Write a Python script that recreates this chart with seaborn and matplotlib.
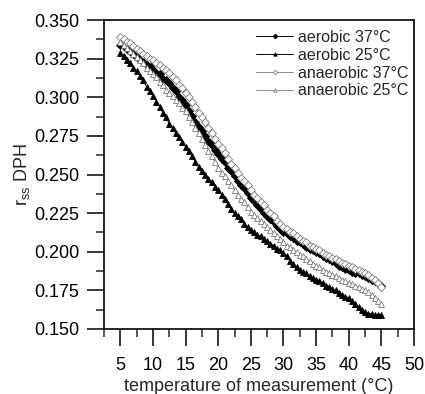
import numpy as np
import pandas as pd
import seaborn as sns
import matplotlib
matplotlib.use("Agg")
import matplotlib.pyplot as plt

# temperatura izmereniya, shag 0.5
temp = np.arange(5.0, 45.5, 0.5)

aerobic_37 = [0.334, 0.333, 0.331, 0.330, 0.328,
              0.326, 0.325, 0.323, 0.321, 0.320,
              0.318, 0.316, 0.315, 0.312, 0.311,
              0.309, 0.306, 0.304, 0.300, 0.298,
              0.295, 0.291, 0.288, 0.284, 0.281,
              0.278, 0.275, 0.272, 0.269, 0.266,
              0.263, 0.260, 0.258, 0.254, 0.252,
              0.249, 0.246, 0.243, 0.241, 0.238,
              0.235, 0.233, 0.230, 0.228, 0.225,
              0.223, 0.221, 0.219, 0.217, 0.215,
              0.213, 0.212, 0.210, 0.209, 0.207,
              0.206, 0.205, 0.203, 0.202, 0.201,
              0.200, 0.199, 0.197, 0.196, 0.195,
              0.194, 0.193, 0.191, 0.190, 0.189,
              0.188, 0.187, 0.186, 0.186, 0.185,
              0.184, 0.183, 0.182, 0.181, 0.180,
              0.178]

aerobic_25 = [0.329, 0.327, 0.324, 0.322, 0.319,
              0.317, 0.314, 0.311, 0.307, 0.304,
              0.301, 0.297, 0.294, 0.290, 0.287,
              0.283, 0.280, 0.277, 0.274, 0.271,
              0.268, 0.265, 0.262, 0.258, 0.255,
              0.252, 0.250, 0.247, 0.245, 0.242,
              0.240, 0.237, 0.234, 0.231, 0.228,
              0.225, 0.223, 0.221, 0.218, 0.216,
              0.214, 0.213, 0.211, 0.210, 0.208,
              0.207, 0.205, 0.204, 0.202, 0.201,
              0.199, 0.197, 0.194, 0.192, 0.190,
              0.188, 0.187, 0.186, 0.184, 0.183,
              0.182, 0.181, 0.180, 0.178, 0.177,
              0.176, 0.175, 0.173, 0.172, 0.171,
              0.170, 0.168, 0.166, 0.164, 0.162,
              0.161, 0.160, 0.160, 0.159, 0.159,
              0.159]

anaerobic_37 = [0.339, 0.338, 0.336, 0.335, 0.333,
                0.331, 0.330, 0.328, 0.327, 0.325,
                0.324, 0.322, 0.321, 0.319, 0.318,
                0.316, 0.313, 0.311, 0.308, 0.306,
                0.303, 0.300, 0.297, 0.294, 0.290,
                0.287, 0.284, 0.280, 0.277, 0.273,
                0.270, 0.267, 0.264, 0.260, 0.257,
                0.254, 0.251, 0.248, 0.246, 0.243,
                0.240, 0.237, 0.235, 0.232, 0.230,
                0.227, 0.225, 0.223, 0.220, 0.218,
                0.216, 0.215, 0.213, 0.212, 0.210,
                0.208, 0.207, 0.206, 0.204, 0.203,
                0.202, 0.201, 0.199, 0.198, 0.197,
                0.196, 0.195, 0.194, 0.193, 0.192,
                0.191, 0.190, 0.189, 0.188, 0.187,
                0.186, 0.185, 0.183, 0.182, 0.180,
                0.177]

anaerobic_25 = [0.336, 0.334, 0.332, 0.330, 0.328,
                0.326, 0.324, 0.322, 0.319, 0.317,
                0.315, 0.313, 0.310, 0.308, 0.305,
                0.303, 0.301, 0.298, 0.296, 0.293,
                0.291, 0.287, 0.284, 0.280, 0.277,
                0.273, 0.269, 0.265, 0.262, 0.258,
                0.254, 0.251, 0.249, 0.246, 0.243,
                0.240, 0.237, 0.234, 0.232, 0.229,
                0.226, 0.224, 0.222, 0.220, 0.218,
                0.216, 0.214, 0.212, 0.210, 0.208,
                0.206, 0.204, 0.203, 0.201, 0.200,
                0.198, 0.197, 0.195, 0.194, 0.192,
                0.191, 0.190, 0.188, 0.187, 0.186,
                0.185, 0.184, 0.183, 0.182, 0.181,
                0.180, 0.179, 0.178, 0.177, 0.176,
                0.175, 0.174, 0.172, 0.170, 0.168,
                0.166]

series_names = ["aerobic 37°C", "aerobic 25°C", "anaerobic 37°C", "anaerobic 25°C"]
series_vals = [aerobic_37, aerobic_25, anaerobic_37, anaerobic_25]

sns.set_style("ticks")
plt.rcParams['font.family'] = ['Liberation Sans', 'DejaVu Sans']
plt.rcParams['mathtext.default'] = 'regular'

# stil kazhdoj krivoj: (cvet linii, marker, zalivka, kraj markera)
styles = [("black", "D", "black", "black"),
          ("black", "^", "black", "black"),
          ("#8c8c8c", "D", "white", "#7a7a7a"),
          ("#8c8c8c", "^", "white", "#7a7a7a")]

fig = plt.figure(figsize=(4.25, 3.94), dpi=100)
ax = fig.add_axes([0.245, 0.165, 0.729, 0.784])

for name, vals, st in zip(series_names, series_vals, styles):
    sns.lineplot(x=temp, y=vals, ax=ax, label=name, color=st[0], lw=0.7,
                 marker=st[1], markersize=4, markerfacecolor=st[2],
                 markeredgecolor=st[3], markeredgewidth=0.6)

ax.set_xlim(2.5, 50)
ax.set_ylim(0.15, 0.35)
ax.set_xticks(np.arange(5, 51, 5))
ax.set_xticks(np.arange(2.5, 50, 5), minor=True)
ax.set_yticks(np.arange(0.15, 0.351, 0.025))
ax.set_yticks(np.arange(0.1625, 0.35, 0.025), minor=True)
ax.yaxis.set_major_formatter(matplotlib.ticker.FormatStrFormatter('%.3f'))
ax.tick_params(which='major', direction='out', length=12, width=1.1, labelsize=13, colors='black')
ax.tick_params(axis='x', which='major', pad=8)
ax.tick_params(axis='y', which='major', pad=6)
ax.tick_params(which='minor', direction='out', length=6, width=1.1)
for s in ax.spines.values():
    s.set_visible(True)
    s.set_linewidth(1.2)
    s.set_color('black')

ax.set_xlabel("temperature of measurement (°C)", fontsize=13, labelpad=3)
ax.set_ylabel("r$_{ss}$ DPH", fontsize=13, labelpad=1)

leg = ax.legend(loc='upper right', frameon=False, fontsize=11.5, handlelength=2.3,
                handletextpad=0.3, labelspacing=0.18, markerscale=0.6,
                bbox_to_anchor=(1.028, 1.015))

fig.savefig("out.png", dpi=100)
